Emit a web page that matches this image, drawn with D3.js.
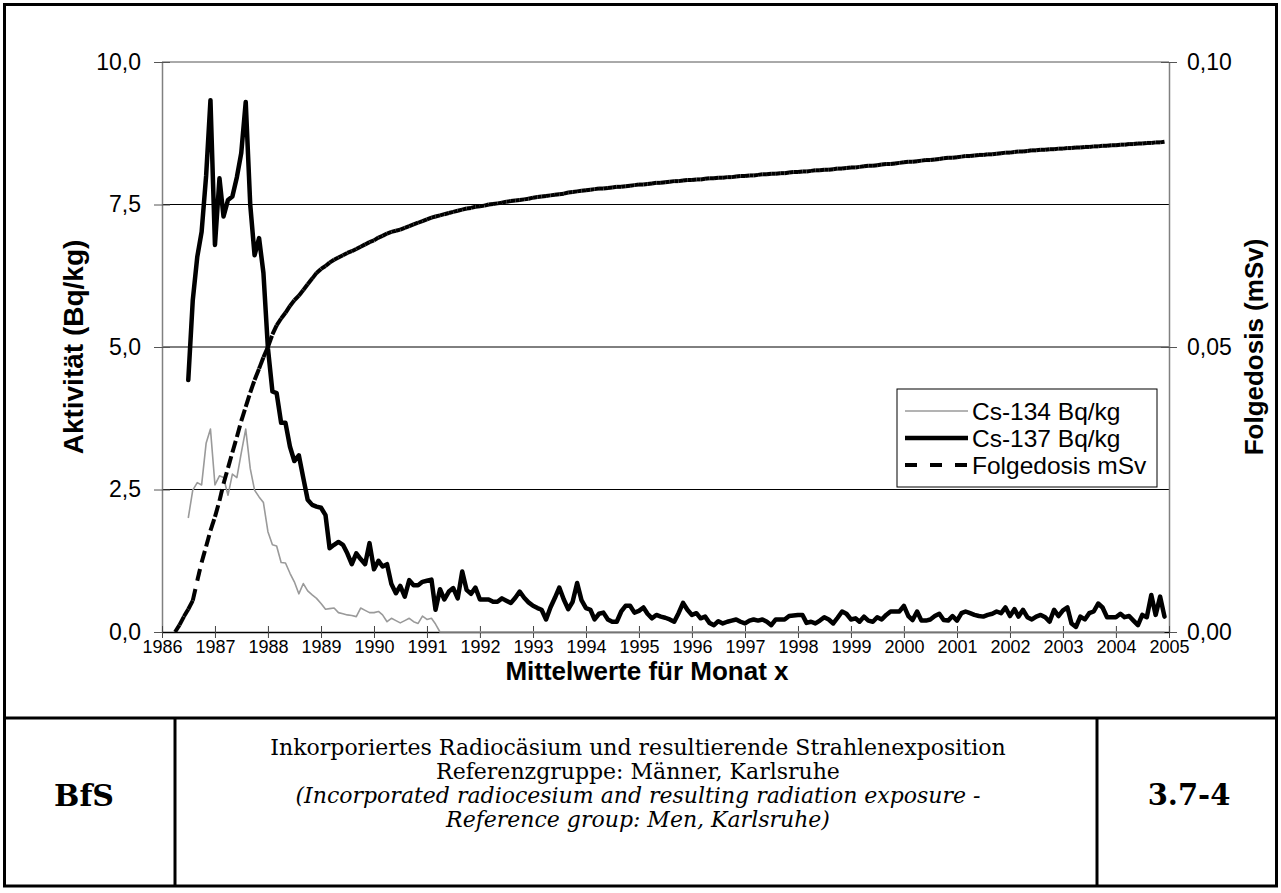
<!DOCTYPE html>
<html>
<head>
<meta charset="utf-8">
<script src="https://cdn.jsdelivr.net/npm/d3@7"></script>
<style>
  body { margin: 0; background: #fff; }
  svg { display: block; }
</style>
</head>
<body>
<div id="chart"></div>
<script>
// monthly means, Cs values start Jul 1986, dose starts Apr 1986
var csStart = new Date(1986, 6, 1);
var doseStart = new Date(1986, 3, 1);

// Cs-137 Bq/kg (left axis), one row per year
var cs137 = [
  4.42, 5.82, 6.58, 7.02, 8.0, 9.33,
  6.79, 7.96, 7.29, 7.58, 7.64, 7.98, 8.4, 9.30, 7.5, 6.61, 6.91, 6.30,
  4.98, 4.22, 4.19, 3.67, 3.67, 3.25, 3.0, 3.1, 2.7, 2.32, 2.23, 2.2,
  2.18, 2.05, 1.47, 1.53, 1.58, 1.53, 1.38, 1.19, 1.38, 1.28, 1.19, 1.56,
  1.10, 1.25, 1.15, 1.19, 0.84, 0.68, 0.81, 0.62, 0.91, 0.82, 0.82, 0.88,
  0.90, 0.92, 0.39, 0.75, 0.57, 0.71, 0.77, 0.59, 1.06, 0.74, 0.67, 0.78,
  0.57, 0.57, 0.57, 0.53, 0.53, 0.59, 0.55, 0.51, 0.60, 0.71, 0.60, 0.52,
  0.46, 0.42, 0.39, 0.22, 0.43, 0.60, 0.78, 0.57, 0.40, 0.53, 0.86, 0.56,
  0.42, 0.39, 0.22, 0.32, 0.34, 0.22, 0.18, 0.18, 0.36, 0.46, 0.46, 0.34,
  0.37, 0.43, 0.32, 0.24, 0.30, 0.27, 0.25, 0.22, 0.18, 0.33, 0.51, 0.39,
  0.30, 0.33, 0.24, 0.27, 0.16, 0.12, 0.19, 0.15, 0.18, 0.20, 0.22, 0.18,
  0.15, 0.20, 0.22, 0.20, 0.22, 0.18, 0.12, 0.22, 0.22, 0.22, 0.28, 0.29,
  0.30, 0.30, 0.16, 0.18, 0.15, 0.20, 0.26, 0.22, 0.15, 0.25, 0.36, 0.32,
  0.22, 0.24, 0.18, 0.27, 0.20, 0.18, 0.26, 0.22, 0.30, 0.36, 0.36, 0.36,
  0.46, 0.28, 0.21, 0.36, 0.20, 0.20, 0.22, 0.28, 0.32, 0.21, 0.20, 0.28,
  0.20, 0.33, 0.36, 0.33, 0.30, 0.28, 0.27, 0.30, 0.32, 0.36, 0.33, 0.43,
  0.28, 0.40, 0.27, 0.39, 0.26, 0.22, 0.27, 0.30, 0.26, 0.18, 0.39, 0.28,
  0.38, 0.43, 0.15, 0.09, 0.27, 0.22, 0.33, 0.36, 0.50, 0.43, 0.26, 0.26,
  0.26, 0.32, 0.26, 0.28, 0.20, 0.12, 0.30, 0.26, 0.65, 0.30, 0.62, 0.27
];

// Cs-134 Bq/kg (left axis)
var cs134 = [
  2.0, 2.49, 2.62, 2.58, 3.31, 3.56,
  2.58, 2.74, 2.71, 2.40, 2.77, 2.71, 3.14, 3.56, 2.87, 2.49, 2.37, 2.27,
  1.76, 1.53, 1.51, 1.22, 1.21, 1.03, 0.88, 0.67, 0.85, 0.72, 0.65, 0.59,
  0.50, 0.40, 0.41, 0.42, 0.34, 0.32, 0.30, 0.29, 0.27, 0.42, 0.38, 0.34,
  0.34, 0.36, 0.30, 0.18, 0.24, 0.20, 0.16, 0.20, 0.24, 0.18, 0.15, 0.28,
  0.22, 0.24, 0.14, 0, 0, 0, 0, 0, 0, 0, 0, 0,
  0, 0, 0, 0, 0, 0, 0, 0, 0, 0, 0, 0,
  0, 0, 0, 0, 0, 0, 0, 0, 0, 0, 0, 0,
  0, 0, 0, 0, 0, 0, 0, 0, 0, 0, 0, 0,
  0, 0, 0, 0, 0, 0, 0, 0, 0, 0, 0, 0,
  0, 0, 0, 0, 0, 0, 0, 0, 0, 0, 0, 0,
  0, 0, 0, 0, 0, 0, 0, 0, 0, 0, 0, 0,
  0, 0, 0, 0, 0, 0, 0, 0, 0, 0, 0, 0,
  0, 0, 0, 0, 0, 0, 0, 0, 0, 0, 0, 0,
  0, 0, 0, 0, 0, 0, 0, 0, 0, 0, 0, 0,
  0, 0, 0, 0, 0, 0, 0, 0, 0, 0, 0, 0,
  0, 0, 0, 0, 0, 0, 0, 0, 0, 0, 0, 0,
  0, 0, 0, 0, 0, 0, 0, 0, 0, 0, 0, 0,
  0, 0, 0, 0, 0, 0, 0, 0, 0, 0, 0, 0
];

// Folgedosis mSv (right axis), Apr 1986 - Dec 2004
var dose = [
  0.0000, 0.0012, 0.0027, 0.0040, 0.0055, 0.0090, 0.0122, 0.0150, 0.0178,
  0.0202, 0.0230, 0.0260, 0.0288, 0.0315, 0.0342, 0.0370, 0.0395, 0.0420, 0.0442, 0.0462, 0.0482,
  0.0500, 0.0522, 0.0538, 0.0550, 0.0560, 0.0572, 0.0582, 0.0590, 0.0600, 0.0610, 0.0620, 0.0630,
  0.0637, 0.0642, 0.0648, 0.0653, 0.0657, 0.0661, 0.0665, 0.0668, 0.0672, 0.0676, 0.0680, 0.0684,
  0.0687, 0.0692, 0.0695, 0.0699, 0.0702, 0.0704, 0.0706, 0.0709, 0.0712, 0.0715, 0.0718, 0.0721,
  0.0724, 0.0727, 0.0729, 0.0731, 0.0733, 0.0735, 0.0737, 0.0739, 0.0741, 0.0743, 0.0744, 0.0746,
  0.0747, 0.0748, 0.0750, 0.0751, 0.0752, 0.0753, 0.0755, 0.0756, 0.0757, 0.0758, 0.0759, 0.0760,
  0.0762, 0.0763, 0.0764, 0.0765, 0.0766, 0.0767, 0.0768, 0.0769, 0.0771, 0.0772, 0.0773, 0.0774,
  0.0775, 0.0776, 0.0777, 0.0778, 0.0778, 0.0779, 0.0780, 0.0781, 0.0781, 0.0782, 0.0783, 0.0784,
  0.0785, 0.0785, 0.0786, 0.0787, 0.0788, 0.0788, 0.0789, 0.0790, 0.0791, 0.0791, 0.0792, 0.0793,
  0.0793, 0.0794, 0.0794, 0.0795, 0.0796, 0.0796, 0.0797, 0.0797, 0.0798, 0.0798, 0.0799, 0.0800,
  0.0800, 0.0801, 0.0801, 0.0802, 0.0803, 0.0803, 0.0804, 0.0804, 0.0805, 0.0805, 0.0806, 0.0807,
  0.0807, 0.0808, 0.0808, 0.0809, 0.0810, 0.0810, 0.0811, 0.0811, 0.0812, 0.0813, 0.0813, 0.0814,
  0.0815, 0.0815, 0.0816, 0.0817, 0.0818, 0.0818, 0.0819, 0.0820, 0.0821, 0.0821, 0.0822, 0.0823,
  0.0824, 0.0825, 0.0825, 0.0826, 0.0827, 0.0828, 0.0828, 0.0829, 0.0830, 0.0831, 0.0832, 0.0832,
  0.0833, 0.0834, 0.0835, 0.0835, 0.0836, 0.0837, 0.0837, 0.0838, 0.0838, 0.0839, 0.0840, 0.0841,
  0.0841, 0.0842, 0.0843, 0.0843, 0.0844, 0.0845, 0.0845, 0.0846, 0.0846, 0.0847, 0.0847, 0.0848,
  0.0848, 0.0849, 0.0849, 0.0850, 0.0850, 0.0851, 0.0851, 0.0852, 0.0852, 0.0853, 0.0853, 0.0854,
  0.0854, 0.0855, 0.0855, 0.0856, 0.0856, 0.0857, 0.0857, 0.0858, 0.0858, 0.0859, 0.0859, 0.0860
];

var yearLabels = ['1986', '1987', '1988', '1989', '1990', '1991', '1992', '1993', '1994', '1995',
  '1996', '1997', '1998', '1999', '2000', '2001', '2002', '2003', '2004', '2005'];
var leftTicks = [0, 2.5, 5, 7.5, 10];
var rightTicks = [0, 0.05, 0.1];
var legendNames = ['Cs-134 Bq/kg', 'Cs-137 Bq/kg', 'Folgedosis mSv'];
var footerLines = [
  'Inkorporiertes Radiocäsium und resultierende Strahlenexposition',
  'Referenzgruppe: Männer, Karlsruhe',
  '(Incorporated radiocesium and resulting radiation exposure -',
  'Reference group: Men, Karlsruhe)'
];

var W = 1281, H = 893;
var x0 = 162, x1 = 1169, yTop = 62, yBot = 632;
var sans = '"Liberation Sans", Arial, sans-serif';
var serif = '"DejaVu Serif", serif';

var de = d3.formatLocale({ decimal: ',', thousands: '.', grouping: [3], currency: ['', ' €'] });

var svg = d3.select('#chart').append('svg').attr('width', W).attr('height', H);

var x = d3.scaleTime()
  .domain([new Date(1986, 0, 1), new Date(2005, 0, 1)])
  .range([x0, x1]);
var yL = d3.scaleLinear().domain([0, 10]).range([yBot, yTop]);
var yR = d3.scaleLinear().domain([0, 0.1]).range([yBot, yTop]);

//---- frame + footer boxes
var frameB = 886, footY = 718;
svg.append('rect')
  .attr('x', 4.5).attr('y', 4.5).attr('width', W - 9).attr('height', frameB - 4.5)
  .attr('fill', 'none').attr('stroke', 'black').attr('stroke-width', 3);
svg.append('line').attr('x1', 4).attr('x2', W - 4).attr('y1', footY).attr('y2', footY)
  .attr('stroke', 'black').attr('stroke-width', 3);
[175, 1097].forEach(function (fx) {
  svg.append('line').attr('x1', fx).attr('x2', fx).attr('y1', footY).attr('y2', frameB)
    .attr('stroke', 'black').attr('stroke-width', 3);
});

//---- gridlines
svg.append('g').selectAll('line')
  .data(leftTicks.filter(function (d) { return d > 0; }))
  .enter().append('line')
  .attr('x1', x0).attr('x2', x1)
  .attr('y1', function (d) { return yL(d); })
  .attr('y2', function (d) { return yL(d); })
  .attr('stroke', function (d) { return d === 10 ? '#555' : 'black'; })
  .attr('stroke-width', 1);

//---- axes
var axL = svg.append('g').attr('transform', 'translate(' + x0 + ',0)')
  .call(d3.axisLeft(yL).tickValues(leftTicks).tickSize(8).tickSizeOuter(0).tickPadding(13)
    .tickFormat(de.format('.1f')));
axL.attr('font-family', sans).attr('font-size', 23);
axL.select('.domain').attr('stroke', '#808080').attr('stroke-width', 1.5);
axL.selectAll('.tick line').attr('x1', 8).attr('stroke', '#555');
axL.selectAll('.tick text').attr('fill', 'black');

var axR = svg.append('g').attr('transform', 'translate(' + x1 + ',0)')
  .call(d3.axisRight(yR).tickValues(rightTicks).tickSize(8).tickSizeOuter(0).tickPadding(10)
    .tickFormat(de.format('.2f')));
axR.attr('font-family', sans).attr('font-size', 23);
axR.select('.domain').attr('stroke', '#808080').attr('stroke-width', 1.5);
axR.selectAll('.tick line').attr('x1', -8).attr('stroke', '#555');
axR.selectAll('.tick text').attr('fill', 'black');

var axB = svg.append('g').attr('transform', 'translate(0,' + yBot + ')')
  .call(d3.axisBottom(x)
    .tickValues(yearLabels.map(function (s) { return new Date(+s, 0, 1); }))
    .tickSize(6).tickSizeOuter(0)
    .tickFormat(d3.timeFormat('%Y')));
axB.attr('font-family', sans).attr('font-size', 18);
axB.select('.domain').attr('stroke', 'black').attr('stroke-width', 1.5);
axB.selectAll('.tick line').attr('y1', -6).attr('stroke', '#444');
axB.selectAll('.tick text').attr('y', 15).attr('dy', '0.35em').attr('fill', 'black');

//---- axis titles
svg.append('text')
  .attr('transform', 'translate(73,' + (yTop + yBot) / 2 + ') rotate(-90)')
  .attr('text-anchor', 'middle').attr('dominant-baseline', 'central')
  .attr('font-family', sans).attr('font-weight', 'bold').attr('font-size', 28)
  .text('Aktivität (Bq/kg)');
svg.append('text')
  .attr('transform', 'translate(1254,' + (yTop + yBot) / 2 + ') rotate(-90)')
  .attr('text-anchor', 'middle').attr('dominant-baseline', 'central')
  .attr('font-family', sans).attr('font-weight', 'bold').attr('font-size', 26)
  .text('Folgedosis (mSv)');
svg.append('text')
  .attr('x', 647).attr('y', 671)
  .attr('text-anchor', 'middle').attr('dominant-baseline', 'central')
  .attr('font-family', sans).attr('font-weight', 'bold').attr('font-size', 26)
  .text('Mittelwerte für Monat x');

//---- series
var lineL = d3.line()
  .x(function (d, i) { return x(d3.timeMonth.offset(csStart, i)); })
  .y(function (d) { return yL(d); });

svg.append('path').datum(cs134)
  .attr('d', lineL)
  .attr('fill', 'none').attr('stroke', '#9a9a9a').attr('stroke-width', 1.6)
  .attr('stroke-linejoin', 'round');

svg.append('path').datum(cs137)
  .attr('d', lineL)
  .attr('fill', 'none').attr('stroke', 'black').attr('stroke-width', 4.5)
  .attr('stroke-linejoin', 'round').attr('stroke-linecap', 'round');

// dose: dash pattern restarts on each monthly segment (as in the original)
var dosePts = dose.map(function (d, i) {
  return [x(d3.timeMonth.offset(doseStart, i)), yR(d)];
});
svg.append('g').selectAll('line')
  .data(d3.pairs(dosePts))
  .enter().append('line')
  .attr('x1', function (p) { return p[0][0]; })
  .attr('y1', function (p) { return p[0][1]; })
  .attr('x2', function (p) { return p[1][0]; })
  .attr('y2', function (p) { return p[1][1]; })
  .attr('stroke', 'black').attr('stroke-width', 4)
  .attr('stroke-dasharray', '12,12');

//---- legend
var lg = svg.append('g').attr('transform', 'translate(897,389)');
lg.append('rect').attr('width', 260).attr('height', 98)
  .attr('fill', 'white').attr('stroke', 'black').attr('stroke-width', 1);
var legStyles = [
  { stroke: '#9a9a9a', width: 1.6, dash: null },
  { stroke: 'black', width: 4.5, dash: null },
  { stroke: 'black', width: 4, dash: '12,13' }
];
var items = lg.selectAll('g.item').data(legendNames).enter().append('g')
  .attr('class', 'item')
  .attr('transform', function (d, i) { return 'translate(0,' + (22 + i * 27) + ')'; });
items.append('line').attr('x1', 8).attr('x2', 71)
  .attr('stroke', function (d, i) { return legStyles[i].stroke; })
  .attr('stroke-width', function (d, i) { return legStyles[i].width; })
  .attr('stroke-dasharray', function (d, i) { return legStyles[i].dash; });
items.append('text').attr('x', 75).attr('dy', '0.35em')
  .attr('font-family', sans).attr('font-size', 24.5)
  .text(function (d) { return d; });

//---- footer
var foot = svg.append('g');
foot.append('text').attr('x', 84).attr('y', 795).attr('dy', '0.35em')
  .attr('text-anchor', 'middle').attr('font-family', serif).attr('font-weight', 'bold')
  .attr('font-size', 30).text('BfS');
foot.append('text').attr('x', 1189).attr('y', 795).attr('dy', '0.35em')
  .attr('text-anchor', 'middle').attr('font-family', serif).attr('font-weight', 'bold')
  .attr('font-size', 29).text('3.7-4');
foot.selectAll('text.cap').data(footerLines).enter().append('text')
  .attr('class', 'cap')
  .attr('x', 638).attr('y', function (d, i) { return 747 + i * 24; })
  .attr('dy', '0.35em').attr('text-anchor', 'middle')
  .attr('font-family', serif).attr('font-size', 22)
  .attr('font-style', function (d, i) { return i >= 2 ? 'italic' : 'normal'; })
  .text(function (d) { return d; });
</script>
</body>
</html>
